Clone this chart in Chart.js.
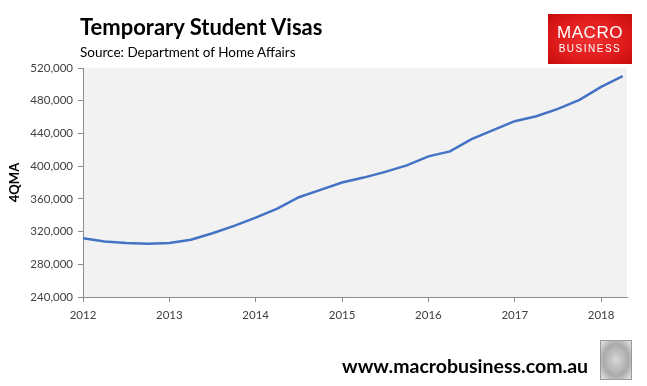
<!DOCTYPE html>
<html>
<head>
<meta charset="utf-8">
<script src="https://cdn.jsdelivr.net/npm/chart.js@4"></script>
<style>
  html, body { margin: 0; padding: 0; background: #fff; }
  #wrap { position: relative; width: 647px; height: 386px; overflow: hidden; font-family: Lato, "Open Sans", sans-serif; }
  #chart { position: absolute; left: 0; top: 0; }
  .title { position: absolute; left: 80px; top: 13px; font-size: 22px; font-weight: bold; color: #000; }
  .sub { position: absolute; left: 80px; top: 44px; font-size: 13.5px; color: #000; }
  .logo { position: absolute; left: 548px; top: 14px; width: 84px; height: 50px;
          background: radial-gradient(ellipse at center, #f03030 0%, #e01b1b 60%, #c40c0c 100%);
          color: #fff; text-align: center; font-family: "Liberation Sans", sans-serif; }
  .logo .m { font-size: 17px; margin-top: 10px; letter-spacing: 0.5px; line-height: 18px; }
  .logo .b { font-size: 10px; letter-spacing: 1.5px; line-height: 14px; }
  .url { position: absolute; left: 342px; top: 354px; font-size: 19.5px; font-weight: bold; color: #000; }
  .wolf { position: absolute; left: 600px; top: 340px; width: 30px; height: 38px;
          border: 1px solid #999; background: radial-gradient(ellipse at center, #d8d8d8 0%, #aaa 60%, #e8e8e8 100%); }
</style>
</head>
<body>
<div id="wrap">
  <canvas id="chart" width="647" height="386"></canvas>
  <div class="title">Temporary Student Visas</div>
  <div class="sub">Source: Department of Home Affairs</div>
  <div class="logo"><div class="m">MACRO</div><div class="b">BUSINESS</div></div>
  <div class="url">www.macrobusiness.com.au</div>
  <div class="wolf"></div>
</div>
<script>
// quarterly, 4 quarter moving average
const QUARTERS = [
  2012.0, 2012.25, 2012.5, 2012.75,
  2013.0, 2013.25, 2013.5, 2013.75,
  2014.0, 2014.25, 2014.5, 2014.75,
  2015.0, 2015.25, 2015.5, 2015.75,
  2016.0, 2016.25, 2016.5, 2016.75,
  2017.0, 2017.25, 2017.5, 2017.75,
  2018.0, 2018.25,
];
const VISAS = [
  312000, 308000, 306000, 305000,
  306000, 310000, 318000, 327000,
  337000, 348000, 362000, 371000,
  380000, 386000, 393000, 401000,
  412000, 418000, 433000, 444000,
  455000, 461000, 470000, 481000,
  497000, 510000,
];
const YEAR_TICKS = [2012, 2013, 2014, 2015, 2016, 2017, 2018];

const AXIS_GREY = "#8c8c8c";
const TICK_TEXT = "#404040";

// grey plot background
const plotBg = {
  id: "plotBg",
  beforeDraw(chart) {
    const { ctx, chartArea: a } = chart;
    ctx.save();
    ctx.fillStyle = "#f2f2f2";
    ctx.fillRect(a.left, a.top, a.right - a.left, a.bottom - a.top);
    ctx.restore();
  },
};

new Chart(document.getElementById("chart").getContext("2d"), {
  type: "line",
  data: {
    datasets: [{
      data: QUARTERS.map((q, i) => ({ x: q, y: VISAS[i] })),
      borderColor: "#4472c4",
      borderWidth: 2.5,
      pointRadius: 0,
      tension: 0,
    }],
  },
  options: {
    responsive: false,
    animation: false,
    layout: { padding: { top: 68, right: 20, bottom: 64, left: 0 } },
    plugins: { legend: { display: false }, tooltip: { enabled: false } },
    scales: {
      x: {
        type: "linear",
        min: 2012, max: 2018.3,
        afterBuildTicks: s => { s.ticks = YEAR_TICKS.map(v => ({ value: v })); },
        afterFit: s => { s.height = 25; },
        grid: { drawOnChartArea: false, color: AXIS_GREY, tickLength: 5 },
        border: { color: AXIS_GREY },
        ticks: {
          color: TICK_TEXT, font: { family: "Lato", size: 11.5 }, maxRotation: 0,
          padding: 6, callback: v => String(v),
        },
      },
      y: {
        min: 240000, max: 520000,
        afterFit: s => { s.width = 83; },
        grid: { drawOnChartArea: false, color: AXIS_GREY, tickLength: 5 },
        border: { color: AXIS_GREY },
        ticks: {
          stepSize: 40000, color: TICK_TEXT, font: { family: "Lato", size: 11.5 },
          padding: 5, callback: v => v.toLocaleString("en-US"),
        },
        title: {
          display: true, text: "4QMA", color: "#000",
          font: { family: "Lato", size: 13, weight: "bold" },
          padding: { top: 7, bottom: 0 },
        },
      },
    },
  },
  plugins: [plotBg],
});
</script>
</body>
</html>
